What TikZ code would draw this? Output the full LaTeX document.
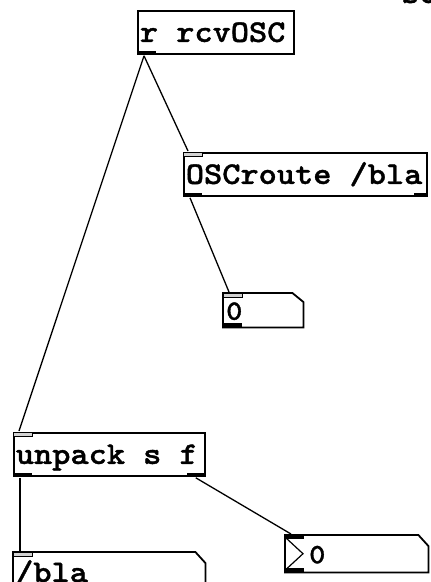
\documentclass[tikz,border=0pt]{standalone}
\usepackage{fontspec}
\newfontfamily\pdmono{lmmonolt10-bold}[Extension=.otf, FakeStretch=1.1, FakeBold=1.2]
\usetikzlibrary{calc}
% one monospaced cell of blank
\newcommand\pdsp{\phantom{x}}

\begin{document}
\begin{tikzpicture}[x=1pt, y=-1pt,
    pdfont/.style={font=\pdmono\fontsize{31.5}{31.5}\selectfont},
    numfont/.style={font=\pdmono\fontsize{28}{28}\selectfont},
    pdobj/.style={draw, line width=1.8pt, rectangle, anchor=north west,
      inner xsep=2pt, inner ysep=0pt, minimum height=43pt,
      text height=19pt, text depth=0pt, align=left, pdfont},
    pdatom/.style={rectangle, anchor=north west, inner sep=0pt},
    outlet/.style={fill=black},
    inlet/.style={draw=black, line width=0.9pt, fill=gray!35},
    cord/.style={line width=1.3pt}]

      % canvas of the patch window
      \useasboundingbox (0,0) rectangle (431,582);

      % port sizes
      \def\pw{19}   % port width
      \def\ph{4}    % port height

      % cut-off comment at the window top
      \node[anchor=base west, inner sep=0pt, pdfont] (cut) at (401,3) {so};

      % Objects
      \node[pdobj, text width=152pt] (rcv) at (137,10) {r\pdsp rcvOSC};
      \node[pdobj, text width=239pt] (route) at (183,152) {OSCroute\pdsp /bla};
      \node[pdobj, text width=187pt] (unpack) at (13,432) {unpack\pdsp s\pdsp f};

      % Atom boxes (outline drawn below, with the notch)
      \node[pdatom, minimum width=80pt, minimum height=34pt] (numA) at (223,293) {};
      \node[pdatom, minimum width=143pt, minimum height=37pt] (numB) at (285,535) {};
      \node[pdatom, minimum width=192pt, minimum height=40pt] (sym) at (13,552) {};

      % notched outlines
      \draw[line width=1.8pt] (numA.north west) -- ($(numA.north east)+(-11,0)$)
        -- ($(numA.north east)+(0,9)$) -- (numA.south east) -- (numA.south west) -- cycle;
      \draw[line width=1.8pt] (numB.north west) -- ($(numB.north east)+(-10,0)$)
        -- ($(numB.north east)+(0,11)$) -- (numB.south east) -- (numB.south west) -- cycle;
      \draw[line width=1.8pt] (sym.north west) -- ($(sym.north east)+(-10,0)$)
        -- ($(sym.north east)+(0,11)$) -- (sym.south east) -- (sym.south west) -- cycle;

      % atom contents
      \node[anchor=west, inner sep=0pt, numfont] (numAtxt) at ($(numA.west)+(3,1)$) {0};
      \draw[line width=1.2pt] ($(numB.north west)+(1,3)$) -- ($(numB.west)+(18,0)$)
        -- ($(numB.south west)+(1,-3)$);
      \node[anchor=west, inner sep=0pt, numfont] (numBtxt) at ($(numB.west)+(24,1)$) {0};
      \node[anchor=base west, inner sep=0pt, pdfont] (symtxt) at ($(sym.north west)+(2,30)$) {/bla};

      % inlets
      \fill[inlet] (route.north west) rectangle ++(\pw,\ph);
      \fill[inlet] (unpack.north west) rectangle ++(\pw,\ph);
      \fill[inlet] (numA.north west) rectangle ++(\pw,\ph);
      \fill[inlet] (sym.north west) rectangle ++(\pw,\ph);
      \fill[outlet] (numB.north west) rectangle ++(\pw,\ph);

      % outlets
      \fill[outlet] (rcv.south west) rectangle ++(\pw,-\ph);
      \fill[outlet] (route.south west) rectangle ++(\pw,-\ph);
      \fill[outlet] (route.south east) rectangle ++(-\pw+5,-\ph);
      \fill[outlet] (unpack.south west) rectangle ++(\pw,-\ph);
      \fill[outlet] (unpack.south east) rectangle ++(-\pw,-\ph);
      \fill[outlet] (numA.south west) rectangle ++(\pw,-\ph);
      \fill[outlet] (numB.south west) rectangle ++(\pw,-\ph);

      % port points for the cords
      \coordinate (rcv-o) at ($(rcv.south west)+(7,1)$);
      \coordinate (route-i) at ($(route.north west)+(5,-1)$);
      \coordinate (route-o) at ($(route.south west)+(7,1)$);
      \coordinate (unpack-i) at ($(unpack.north west)+(6,-1)$);
      \coordinate (unpack-o1) at ($(unpack.south west)+(7,1)$);
      \coordinate (unpack-o2) at ($(unpack.south east)+(-10,1)$);
      \coordinate (numA-i) at ($(numA.north west)+(6,-1)$);
      \coordinate (numB-i) at ($(numB.north west)+(6,-1)$);
      \coordinate (sym-i) at ($(sym.north west)+(7,-1)$);

      % patch cords
      \draw[cord] (rcv-o) -- (route-i);
      \draw[cord] (rcv-o) -- (unpack-i);
      \draw[cord] (route-o) -- (numA-i);
      \draw[cord] (unpack-o1) -- (sym-i);
      \draw[cord] (unpack-o2) -- (numB-i);

    \end{tikzpicture}
\end{document}
